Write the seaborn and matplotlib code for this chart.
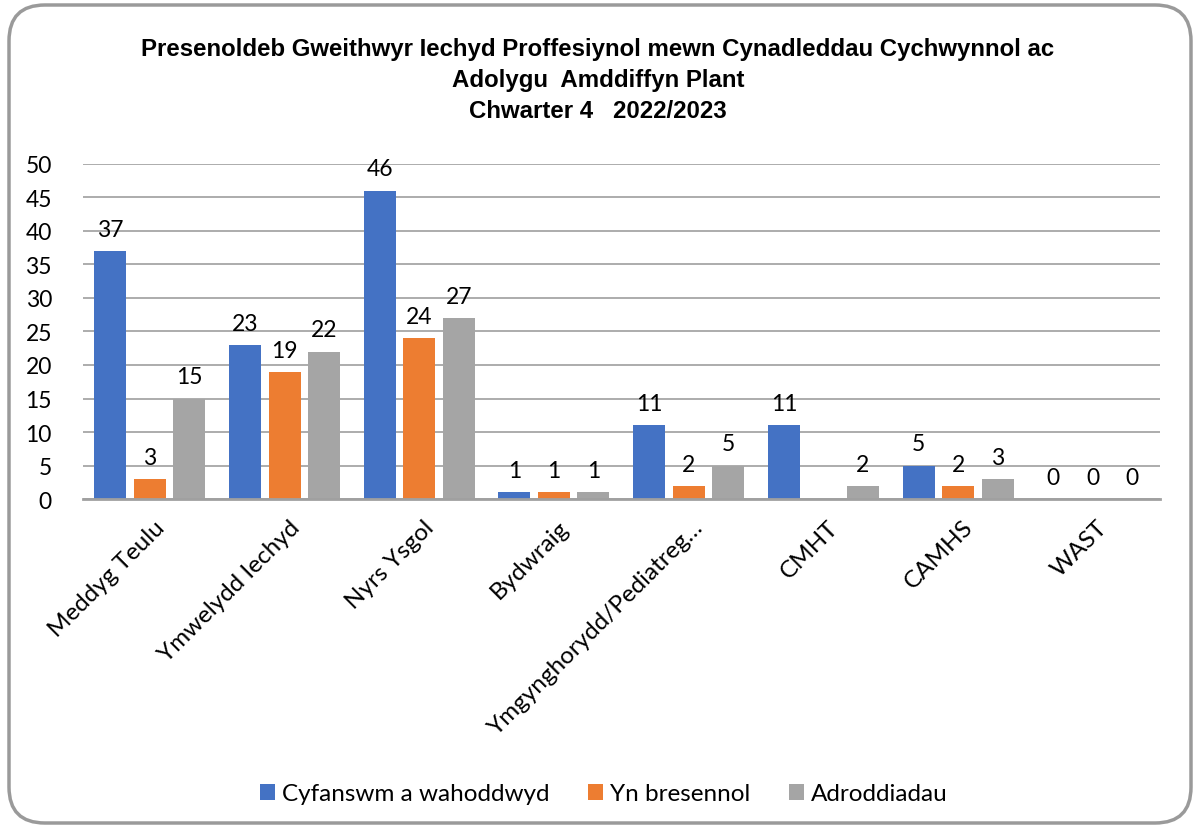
import matplotlib
matplotlib.use('Agg')
import matplotlib.pyplot as plt
import matplotlib.transforms as mtransforms
import numpy as np
import pandas as pd
import seaborn as sns
from matplotlib import font_manager
from matplotlib.patches import FancyBboxPatch

categories = ['Meddyg Teulu', 'Ymwelydd Iechyd', 'Nyrs Ysgol', 'Bydwraig',
              'Ymgynghorydd/Pediatreg…', 'CMHT', 'CAMHS', 'WAST']
series = ['Cyfanswm a wahoddwyd', 'Yn bresennol', 'Adroddiadau']
invited = [37, 23, 46, 1, 11, 11, 5, 0]
present = [3, 19, 24, 1, 2, np.nan, 2, 0]
reports = [15, 22, 27, 1, 5, 2, 3, 0]
palette = ['#4472C4', '#ED7D31', '#A5A5A5']

title = ('Presenoldeb Gweithwyr Iechyd Proffesiynol mewn Cynadleddau Cychwynnol ac\n'
         'Adolygu  Amddiffyn Plant\n'
         'Chwarter 4   2022/2023')

df = pd.DataFrame({
    'cat': categories * 3,
    'series': np.repeat(series, len(categories)),
    'value': invited + present + reports,
})

sns.set_style('white')
installed = {f.name for f in font_manager.fontManager.ttflist}
body_font = 'Lato' if 'Lato' in installed else 'DejaVu Sans'
title_font = 'Liberation Sans Narrow' if 'Liberation Sans Narrow' in installed else 'Liberation Sans'
plt.rcParams['font.family'] = [body_font, 'DejaVu Sans']
plt.rcParams['text.color'] = 'black'
plt.rcParams['xtick.color'] = 'black'
plt.rcParams['ytick.color'] = 'black'

fig = plt.figure(figsize=(11.96, 8.28), dpi=100)
ax = fig.add_axes([0.069, 0.396, 0.901, 0.405])

sns.barplot(data=df, x='cat', y='value', hue='series', palette=palette,
            width=0.88, gap=0.19, errorbar=None, saturation=1, linewidth=0,
            ax=ax, legend=True)

for c in ax.containers:
    labels = ['' if np.isnan(b.get_height()) else f'{b.get_height():g}' for b in c]
    ax.bar_label(c, labels=labels, padding=8, fontsize=16.5, color='black')

ax.set_ylim(0, 50)
ax.set_yticks(range(0, 51, 5))
ax.set_xlim(-0.5, len(categories) - 0.5)
ax.yaxis.grid(True, color='#A6A6A6', linewidth=1.3)
ax.set_axisbelow(True)
ax.set_xlabel('')
ax.set_ylabel('')
for s in ['top', 'right', 'left']:
    ax.spines[s].set_visible(False)
ax.spines['bottom'].set_color('#A0A0A0')
ax.spines['bottom'].set_linewidth(2)
ax.tick_params(axis='y', labelsize=16.5, length=0, pad=22)
ax.tick_params(axis='x', length=0)

# excel-style rotated labels, ending just right of the category centre
offset = mtransforms.ScaledTranslation(4 / 100, -12 / 100, fig.dpi_scale_trans)
ax.set_xticks(range(len(categories)))
ax.set_xticklabels(categories, rotation=45, ha='right', va='top',
                   rotation_mode='anchor', fontsize=17.5)
for lab in ax.get_xticklabels():
    lab.set_transform(lab.get_transform() + offset)

handles, labs = ax.get_legend_handles_labels()
ax.legend(handles, labs, loc='center', bbox_to_anchor=(0.505, 0.04),
          bbox_transform=fig.transFigure, ncol=3, frameon=False, fontsize=17.5,
          handlelength=0.6, handleheight=0.6, handletextpad=0.3,
          columnspacing=1.6)

fig.text(0.5, 0.903, title, ha='center', va='center', fontsize=17.3,
         fontweight='bold', family=title_font, linespacing=1.45, color='black')

border = FancyBboxPatch((9 / 1196, 4 / 828), 1182 / 1196, 818 / 828,
                        boxstyle='round,pad=0,rounding_size=0.03',
                        transform=fig.transFigure, facecolor='none',
                        edgecolor='#9A9A9A', linewidth=2.5, mutation_aspect=1196 / 828)
fig.patches.append(border)

fig.savefig('out.png', dpi=100)
